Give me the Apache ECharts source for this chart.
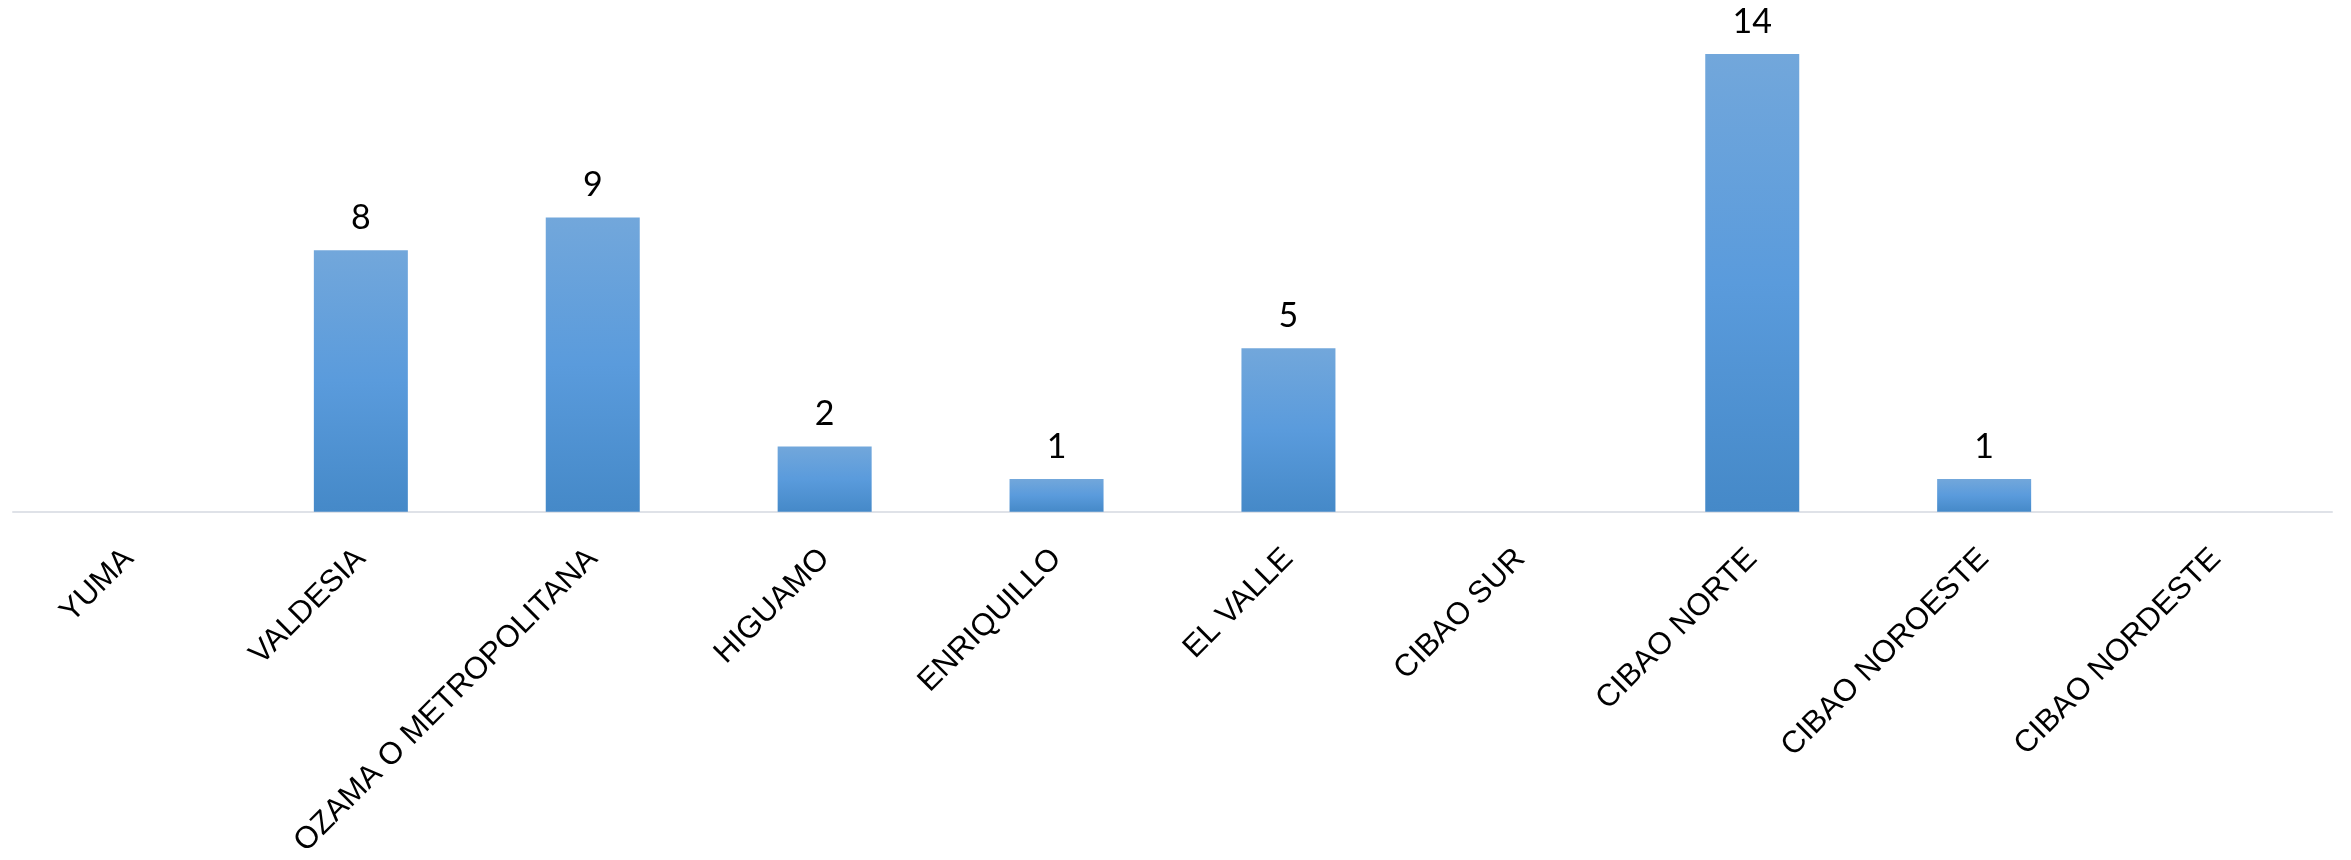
<!DOCTYPE html>
<html><head><meta charset="utf-8">
<script src="https://cdn.jsdelivr.net/npm/echarts@6/dist/echarts.min.js"></script>
<style>html,body{margin:0;padding:0;background:#fff}#c{width:2351px;height:860px}</style>
</head><body><div id="c"></div>
<script>
const categories = ["YUMA","VALDESIA","OZAMA O METROPOLITANA","HIGUAMO","ENRIQUILLO","EL VALLE","CIBAO SUR","CIBAO NORTE","CIBAO NOROESTE","CIBAO NORDESTE"];
const values = [null, 8, 9, 2, 1, 5, null, 14, 1, null];

const chart = echarts.init(document.getElementById('c'), null, {renderer:'canvas'});
chart.setOption({
  animation:false,
  backgroundColor:'#ffffff',
  grid:{left:13, right:19, top:54, bottom:345, containLabel:false},
  xAxis:{
    type:'category', data:categories,
    axisLine:{lineStyle:{color:'#dfe2e8', width:2}},
    axisTick:{show:false},
    axisLabel:{interval:0, rotate:45, margin:42, color:'#000', fontFamily:'Liberation Sans', fontSize:31}
  },
  yAxis:{type:'value', min:0, max:14, show:false, splitLine:{show:false}},
  series:[{
    type:'bar', data:values, barWidth:94,
    itemStyle:{color:new echarts.graphic.LinearGradient(0,0,0,1,[{offset:0,color:'#72a7db'},{offset:0.5,color:'#5a9bdc'},{offset:1,color:'#4589c8'}])},
    label:{show:true, position:'top', distance:15, color:'#000', fontFamily:'Lato', fontSize:34}
  }]
});
</script></body></html>
